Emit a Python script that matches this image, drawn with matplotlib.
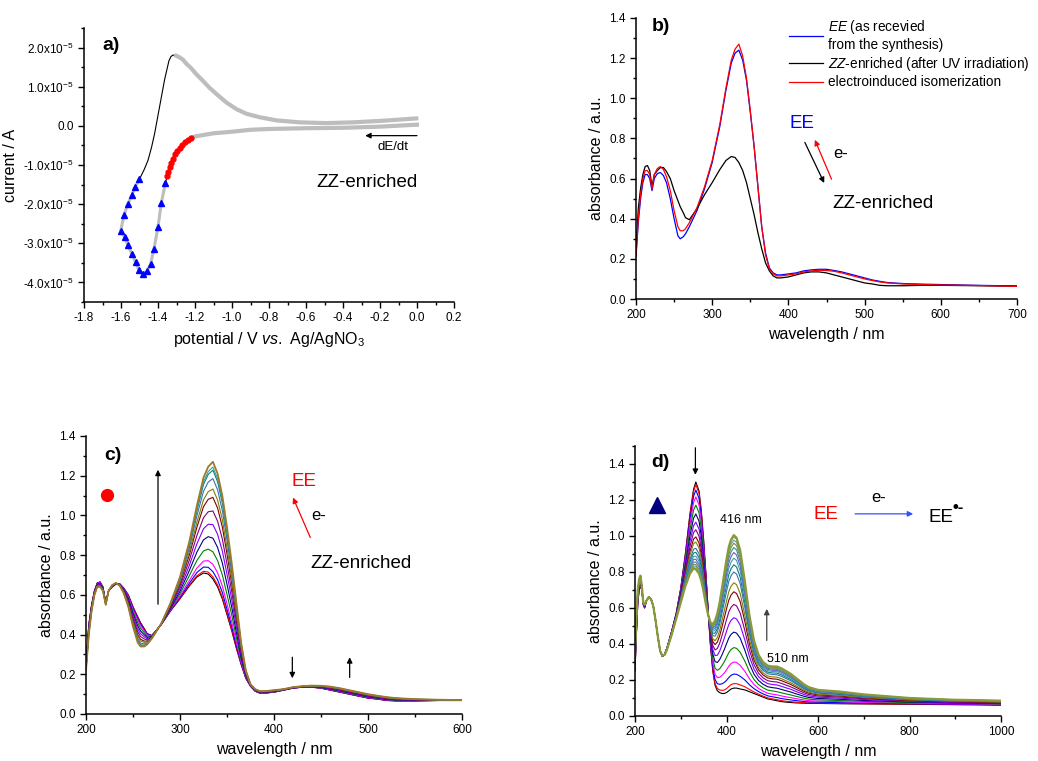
import numpy as np
import matplotlib
matplotlib.use('Agg')
import matplotlib.pyplot as plt
from matplotlib.ticker import MultipleLocator, FixedLocator, FuncFormatter, FormatStrFormatter

plt.rcParams['font.family'] = ['Liberation Sans', 'DejaVu Sans']
plt.rcParams['mathtext.fontset'] = 'custom'
plt.rcParams['mathtext.rm'] = 'Liberation Sans'
plt.rcParams['mathtext.it'] = 'Liberation Sans:italic'
plt.rcParams['mathtext.bf'] = 'Liberation Sans:bold'
plt.rcParams['axes.unicode_minus'] = False

# ---- a) cyclic voltammogram (current in units of 1e-5 A)
cv_fwd_E = [0.0, -0.2, -0.4, -0.6, -0.8, -0.9, -1.0, -1.1, -1.15, -1.2, -1.22]
cv_fwd_I = [0.03, -0.02, -0.05, -0.06, -0.08, -0.10, -0.15, -0.19, -0.23, -0.27, -0.30]
red_E = [-1.220, -1.238, -1.254, -1.268, -1.283, -1.297, -1.310, -1.319, -1.328, -1.337, -1.344, -1.350]
red_I = [-0.30, -0.36, -0.42, -0.49, -0.56, -0.65, -0.73, -0.84, -0.95, -1.05, -1.18, -1.28]
blue_E = [-1.360, -1.382, -1.400, -1.422, -1.440, -1.461, -1.481, -1.503, -1.521, -1.541, -1.562,
          -1.580, -1.602, -1.584, -1.562, -1.541, -1.523, -1.501]
blue_I = [-1.46, -1.97, -2.58, -3.15, -3.53, -3.72, -3.78, -3.68, -3.49, -3.28, -3.05,
          -2.84, -2.69, -2.28, -1.99, -1.76, -1.55, -1.37]
ret_E = [-1.501, -1.475, -1.454, -1.435, -1.418, -1.391, -1.364, -1.341, -1.330, -1.319, -1.301]
ret_I = [-1.37, -1.12, -0.88, -0.55, -0.19, 0.50, 1.19, 1.66, 1.77, 1.81, 1.79]
back_E = [-1.301, -1.283, -1.265, -1.247, -1.220, -1.193, -1.157, -1.121, -1.076, -1.031, -0.977,
          -0.923, -0.850, -0.760, -0.634, -0.490, -0.346, -0.184, -0.004]
back_I = [1.79, 1.75, 1.69, 1.59, 1.47, 1.32, 1.15, 0.97, 0.78, 0.60, 0.43,
          0.31, 0.22, 0.14, 0.09, 0.07, 0.09, 0.13, 0.19]

# ---- b) / c) UV-vis spectra
wl_uv = [200, 203, 206, 209, 212, 215, 218, 221, 224, 228, 232, 236, 240, 245, 250, 255, 258, 262,
         265, 270, 280, 290, 300, 310, 318, 325, 330, 335, 340, 345, 350, 355, 360, 365, 370, 375,
         380, 385, 390, 400, 410, 420, 430, 440, 450, 460, 470, 480, 490, 500, 510, 520, 530, 550,
         575, 600, 650, 700]
abs_ee = [0.21, 0.38, 0.50, 0.58, 0.62, 0.62, 0.60, 0.54, 0.60, 0.625, 0.63, 0.615, 0.58, 0.50,
          0.40, 0.315, 0.30, 0.31, 0.325, 0.36, 0.44, 0.55, 0.68, 0.86, 1.04, 1.175, 1.225, 1.24,
          1.19, 1.09, 0.93, 0.76, 0.56, 0.36, 0.23, 0.155, 0.13, 0.12, 0.12, 0.125, 0.13, 0.14,
          0.145, 0.148, 0.148, 0.142, 0.135, 0.125, 0.115, 0.105, 0.095, 0.088, 0.082, 0.077,
          0.074, 0.072, 0.068, 0.065]
abs_zz = [0.25, 0.45, 0.55, 0.62, 0.66, 0.665, 0.64, 0.56, 0.62, 0.64, 0.655, 0.655, 0.635, 0.60,
          0.54, 0.49, 0.46, 0.43, 0.405, 0.395, 0.45, 0.52, 0.58, 0.645, 0.69, 0.71, 0.705, 0.68,
          0.64, 0.58, 0.50, 0.42, 0.33, 0.25, 0.18, 0.14, 0.115, 0.105, 0.105, 0.11, 0.12, 0.13,
          0.135, 0.135, 0.13, 0.12, 0.11, 0.10, 0.09, 0.08, 0.075, 0.068, 0.066, 0.066, 0.068,
          0.068, 0.066, 0.064]
abs_el = [0.22, 0.40, 0.52, 0.60, 0.64, 0.64, 0.62, 0.55, 0.62, 0.65, 0.66, 0.645, 0.61, 0.54,
          0.44, 0.36, 0.34, 0.34, 0.35, 0.38, 0.455, 0.56, 0.69, 0.87, 1.05, 1.19, 1.245, 1.27,
          1.21, 1.10, 0.94, 0.76, 0.56, 0.36, 0.22, 0.15, 0.125, 0.115, 0.115, 0.12, 0.125, 0.135,
          0.14, 0.143, 0.142, 0.138, 0.13, 0.12, 0.11, 0.10, 0.092, 0.085, 0.08, 0.075, 0.072,
          0.07, 0.067, 0.063]
# peak absorbance of each spectrum recorded during electrolysis (panel c)
c_peaks = [0.71, 0.72, 0.745, 0.78, 0.84, 0.905, 0.97, 1.035, 1.10, 1.14, 1.19, 1.23, 1.245, 1.27]
c_colors = ['#000000', '#ff0000', '#0000ff', '#ff00ff', '#008000', '#000080', '#8000ff',
            '#800080', '#800000', '#808000', '#3d6fb0', '#008080', '#3aa0a0', '#a07828']

# ---- d) reduction of EE
wl_vis = [200, 203, 206, 209, 212, 215, 218, 221, 225, 230, 235, 240, 245, 250, 255, 260, 265, 270,
          280, 290, 300, 310, 320, 328, 333, 340, 345, 350, 355, 360, 365, 370, 375, 380, 385, 390,
          395, 400, 405, 410, 416, 422, 430, 440, 450, 460, 470, 480, 490, 500, 510, 520, 530, 540,
          550, 560, 570, 580, 600, 625, 650, 700, 750, 800, 850, 900, 950, 1000]
abs_d_start = [0.25, 0.45, 0.62, 0.70, 0.72, 0.70, 0.62, 0.60, 0.64, 0.66, 0.65, 0.61, 0.53, 0.44,
               0.36, 0.33, 0.345, 0.38, 0.47, 0.57, 0.71, 0.90, 1.12, 1.26, 1.30, 1.25, 1.14, 0.98,
               0.79, 0.58, 0.39, 0.25, 0.17, 0.14, 0.13, 0.125, 0.125, 0.13, 0.14, 0.15, 0.155,
               0.155, 0.15, 0.145, 0.135, 0.125, 0.115, 0.105, 0.095, 0.09, 0.085, 0.08, 0.077,
               0.075, 0.073, 0.072, 0.071, 0.07, 0.07, 0.069, 0.068, 0.067, 0.066, 0.065, 0.064,
               0.063, 0.062, 0.06]
abs_d_end = [0.35, 0.55, 0.70, 0.76, 0.78, 0.72, 0.63, 0.62, 0.64, 0.66, 0.65, 0.61, 0.53, 0.44,
             0.36, 0.335, 0.34, 0.37, 0.45, 0.54, 0.63, 0.72, 0.79, 0.82, 0.815, 0.79, 0.75, 0.69,
             0.62, 0.56, 0.52, 0.51, 0.53, 0.57, 0.63, 0.71, 0.79, 0.87, 0.94, 0.98, 1.005, 0.99,
             0.92, 0.75, 0.56, 0.42, 0.34, 0.30, 0.28, 0.275, 0.275, 0.265, 0.25, 0.235, 0.215,
             0.195, 0.175, 0.16, 0.145, 0.14, 0.135, 0.12, 0.11, 0.10, 0.095, 0.09, 0.088, 0.085]
# absorbance at 416 nm of each spectrum (panel d)
d_h416 = [0.155, 0.18, 0.233, 0.30, 0.38, 0.466, 0.546, 0.62, 0.69, 0.74, 0.80, 0.84, 0.877,
          0.908, 0.936, 0.96, 0.978, 0.997, 1.005]
d_colors = ['#000000', '#ff0000', '#0000ff', '#ff00ff', '#008000', '#000080', '#8000ff',
            '#800080', '#800000', '#808000', '#3d6fb0', '#008080', '#4a9bb0', '#6a5acd',
            '#2f8f8f', '#7b8b3a', '#5f9ea0', '#6b8e23', '#8a9a3b']

W, H = 1038, 761
fig = plt.figure(figsize=(W / 100, H / 100), dpi=100)


def box(l, r, t, b):
    return [l / W, 1 - b / H, (r - l) / W, (b - t) / H]


def style(ax):
    for s in ['top', 'right']:
        ax.spines[s].set_visible(False)
    for s in ['left', 'bottom']:
        ax.spines[s].set_linewidth(1.1)
    ax.tick_params(which='both', direction='out', labelsize=8.5, width=1)
    ax.tick_params(which='major', length=4)
    ax.tick_params(which='minor', length=2.5)


def arrow(ax, x0, y0, x1, y1, color='k', lw=0.9):
    ax.annotate('', xy=(x1, y1), xytext=(x0, y0),
                arrowprops=dict(arrowstyle='-|>', color=color, lw=lw, mutation_scale=8,
                                shrinkA=0, shrinkB=0))


# ================= a)
ax = fig.add_axes(box(84, 454, 28, 302))
style(ax)
sc = 1e-5
all_E = cv_fwd_E + red_E + blue_E + ret_E + back_E
all_I = np.array(cv_fwd_I + red_I + blue_I + ret_I + back_I) * sc
ax.plot(all_E, all_I, color='k', lw=0.8)
ax.plot(cv_fwd_E, np.array(cv_fwd_I) * sc, color='#bdbdbd', lw=3)
ax.plot(back_E, np.array(back_I) * sc, color='#bdbdbd', lw=3, solid_joinstyle='round')
ax.plot(blue_E, np.array(blue_I) * sc, color='#bdbdbd', lw=2.2)
ax.plot(red_E, np.array(red_I) * sc, color='red', lw=1.5, marker='o', ms=3.5)
ax.plot(blue_E, np.array(blue_I) * sc, ls='none', color='blue', marker='^', ms=4.5)
ax.set_xlim(-1.8, 0.2)
ax.set_ylim(-4.5e-5, 2.5e-5)
ax.xaxis.set_major_locator(MultipleLocator(0.2))
ax.xaxis.set_minor_locator(MultipleLocator(0.1))
ax.xaxis.set_major_formatter(FormatStrFormatter('%.1f'))
ax.yaxis.set_major_locator(FixedLocator([-4e-5, -3e-5, -2e-5, -1e-5, 0, 1e-5, 2e-5]))
ax.yaxis.set_minor_locator(FixedLocator(np.arange(-4.5, 2.6, 0.5) * 1e-5))
ax.yaxis.set_major_formatter(FuncFormatter(
    lambda v, p: '0.0' if abs(v) < 1e-9 else '%.1fx10$^{-5}$' % (v / 1e-5)))
ax.set_xlabel(r'potential / V $\mathit{vs.}$ Ag/AgNO$_3$', fontsize=11.5)
ax.set_ylabel('current / A', fontsize=11.5)
ax.text(-1.70, 2.06e-5, 'a)', fontsize=14, fontweight='bold', va='center')
arrow(ax, 0.0, -0.25e-5, -0.28, -0.25e-5)
ax.text(-0.13, -0.55e-5, 'dE/dt', fontsize=9.5, ha='center', va='center')
ax.text(-0.544, -1.44e-5, 'ZZ-enriched', fontsize=13.5, va='center')

# ================= b)
ax = fig.add_axes(box(636, 1017, 18, 299))
style(ax)
ax.plot(wl_uv, abs_ee, color='blue', lw=0.9,
        label='$\\mathit{EE}$ (as recevied\nfrom the synthesis)')
ax.plot(wl_uv, abs_zz, color='black', lw=0.9,
        label='$\\mathit{ZZ}$-enriched (after UV irradiation)')
ax.plot(wl_uv, abs_el, color='red', lw=0.9, label='electroinduced isomerization')
ax.set_xlim(200, 700)
ax.set_ylim(0, 1.4)
ax.xaxis.set_major_locator(MultipleLocator(100))
ax.xaxis.set_minor_locator(MultipleLocator(50))
ax.yaxis.set_major_locator(MultipleLocator(0.2))
ax.yaxis.set_minor_locator(MultipleLocator(0.1))
ax.yaxis.set_major_formatter(FormatStrFormatter('%.1f'))
ax.set_xlabel('wavelength / nm', fontsize=11.5)
ax.set_ylabel('absorbance / a.u.', fontsize=11.5)
ax.legend(loc='upper left', bbox_to_anchor=(0.385, 1.025), frameon=False, fontsize=9.8,
          handlelength=2.45, handletextpad=0.35, labelspacing=0.2, borderpad=0)
ax.text(220.5, 1.36, 'b)', fontsize=14, fontweight='bold', va='center')
ax.text(402, 0.876, 'EE', fontsize=13.5, color='blue', va='center')
arrow(ax, 421.6, 0.78, 447, 0.578, color='black')
arrow(ax, 456.6, 0.597, 434.7, 0.793, color='red')
ax.text(458.7, 0.727, 'e-', fontsize=12, va='center')
ax.text(458, 0.475, 'ZZ-enriched', fontsize=13.5, va='center')

# ================= c)
ax = fig.add_axes(box(86, 462, 436, 714))
style(ax)
zz = np.array(abs_zz)
el = np.array(abs_el)
for i, (pk, col) in enumerate(zip(c_peaks, c_colors)):
    f = (pk - zz.max()) / (el.max() - zz.max())
    ax.plot(wl_uv, zz + f * (el - zz), color=col, lw=1.3 if i == len(c_peaks) - 1 else 0.8)
ax.set_xlim(200, 600)
ax.set_ylim(0, 1.4)
ax.xaxis.set_major_locator(MultipleLocator(100))
ax.xaxis.set_minor_locator(MultipleLocator(50))
ax.yaxis.set_major_locator(MultipleLocator(0.2))
ax.yaxis.set_minor_locator(MultipleLocator(0.1))
ax.yaxis.set_major_formatter(FormatStrFormatter('%.1f'))
ax.set_xlabel('wavelength / nm', fontsize=11.5)
ax.set_ylabel('absorbance / a.u.', fontsize=11.5)
ax.text(219.5, 1.30, 'c)', fontsize=14, fontweight='bold', va='center')
ax.plot([222.7], [1.104], 'o', color='red', ms=8.5)
arrow(ax, 276.6, 0.553, 276.6, 1.23)
arrow(ax, 419.5, 0.286, 419.5, 0.18)
arrow(ax, 480.5, 0.184, 480.5, 0.286)
ax.text(419, 1.17, 'EE', fontsize=13.5, color='red', va='center')
arrow(ax, 438.6, 0.889, 420.2, 1.09, color='red')
ax.text(440, 1.0, 'e-', fontsize=12, va='center')
ax.text(439, 0.76, 'ZZ-enriched', fontsize=13.5, va='center')

# ================= d)
ax = fig.add_axes(box(635, 1001, 446, 716))
style(ax)
ds = np.array(abs_d_start)
de = np.array(abs_d_end)
i416 = wl_vis.index(416)
for i, (h, col) in enumerate(zip(d_h416, d_colors)):
    f = (h - ds[i416]) / (de[i416] - ds[i416])
    ax.plot(wl_vis, ds + f * (de - ds), color=col, lw=1.6 if i == len(d_h416) - 1 else 0.8)
ax.set_xlim(200, 1000)
ax.set_ylim(0, 1.5)
ax.xaxis.set_major_locator(MultipleLocator(200))
ax.xaxis.set_minor_locator(MultipleLocator(100))
ax.yaxis.set_major_locator(FixedLocator(np.arange(0, 1.41, 0.2)))
ax.yaxis.set_minor_locator(MultipleLocator(0.1))
ax.yaxis.set_major_formatter(FormatStrFormatter('%.1f'))
ax.set_xlabel('wavelength / nm', fontsize=11.5)
ax.set_ylabel('absorbance / a.u.', fontsize=11.5)
ax.text(235, 1.41, 'd)', fontsize=14, fontweight='bold', va='center')
ax.plot([248], [1.17], '^', color='#000080', ms=11)
arrow(ax, 332, 1.49, 332, 1.34)
ax.text(386, 1.09, '416 nm', fontsize=9, va='center')
arrow(ax, 488, 0.42, 488, 0.595, color='#404040')
ax.text(488, 0.318, '510 nm', fontsize=9, va='center')
ax.text(590, 1.12, 'EE', fontsize=13.5, color='red', va='center')
arrow(ax, 681, 1.123, 808, 1.123, color='#3050ff')
ax.text(717, 1.215, 'e-', fontsize=12, va='center')
ax.text(841, 1.10, 'EE', fontsize=13.5, va='center')
ax.annotate('\u2022-', xy=(841, 1.10), xytext=(17.5, 2), textcoords='offset points',
            fontsize=12, fontweight='bold', va='bottom')

fig.savefig('out.png', dpi=100)
